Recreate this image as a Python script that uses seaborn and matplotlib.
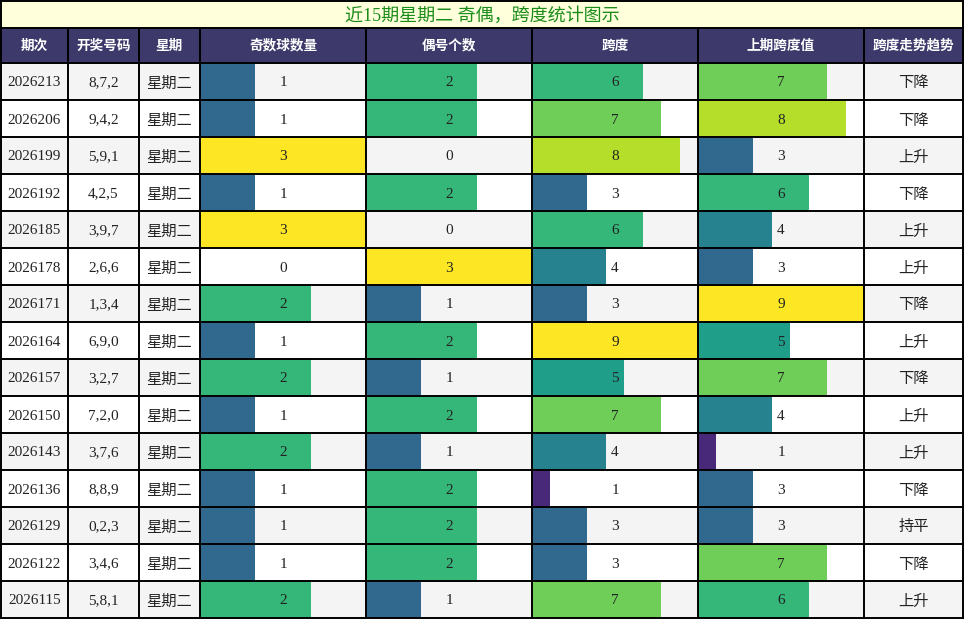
import matplotlib
matplotlib.use("Agg")
import matplotlib.pyplot as plt
import seaborn as sns

# data
periods = ["2026213", "2026206", "2026199", "2026192", "2026185", "2026178", "2026171", "2026164",
           "2026157", "2026150", "2026143", "2026136", "2026129", "2026122", "2026115"]
draws = ["8,7,2", "9,4,2", "5,9,1", "4,2,5", "3,9,7", "2,6,6", "1,3,4", "6,9,0",
         "3,2,7", "7,2,0", "3,7,6", "8,8,9", "0,2,3", "3,4,6", "5,8,1"]
weekday = "星期二"
odd_count = [1, 1, 3, 1, 3, 0, 2, 1, 2, 1, 2, 1, 1, 1, 2]
even_count = [2, 2, 0, 2, 0, 3, 1, 2, 1, 2, 1, 2, 2, 2, 1]
span = [6, 7, 8, 3, 6, 4, 3, 9, 5, 7, 4, 1, 3, 3, 7]
prev_span = [7, 8, 3, 6, 4, 3, 9, 5, 7, 4, 1, 3, 3, 7, 6]
trend = ["下降", "下降", "上升", "下降", "上升", "上升", "下降", "上升",
         "下降", "上升", "上升", "下降", "持平", "下降", "上升"]
headers = ["期次", "开奖号码", "星期", "奇数球数量", "偶号个数", "跨度", "上期跨度值", "跨度走势趋势"]
title = "近15期星期二 奇偶，跨度统计图示"

sns.set_theme(style="white")
FONT = ["Liberation Serif", "Noto Sans CJK SC", "DejaVu Sans"]
CJK = ["Noto Sans CJK SC", "DejaVu Sans"]
plt.rcParams["font.family"] = FONT

W, H = 964, 619
col_edges = [1, 68, 139, 200, 366, 532, 698, 864, 963]
title_h, head_bot, row_h = 28, 63, 37
n = len(periods)
table_bot = head_bot + row_h * n

fig = plt.figure(figsize=(W / 100, H / 100), dpi=100)

# background layer
bg = fig.add_axes([0, 0, 1, 1])
bg.set_xlim(0, W)
bg.set_ylim(H, 0)
bg.axis("off")
bg.add_patch(plt.Rectangle((0, 0), W, title_h, color="#ffffdc"))
bg.add_patch(plt.Rectangle((0, title_h), W, head_bot - title_h, color="#3d3a6b"))
for i in range(n):
    fc = "#f4f4f4" if i % 2 == 0 else "#ffffff"
    bg.add_patch(plt.Rectangle((0, head_bot + i * row_h), W, row_h, color=fc))

# bar columns
cmap = sns.color_palette("viridis", as_cmap=True)
bar_cols = [(3, odd_count, 3), (4, even_count, 3), (5, span, 9), (6, prev_span, 9)]
rows = [str(i) for i in range(n)]
for ci, vals, vmax in bar_cols:
    x0, x1 = col_edges[ci], col_edges[ci + 1]
    ax = fig.add_axes([x0 / W, (H - table_bot) / H, (x1 - x0) / W, (table_bot - head_bot) / H])
    ax.patch.set_alpha(0)
    colors = [cmap(v / vmax) for v in vals]
    sns.barplot(x=vals, y=rows, hue=rows, palette=colors, order=rows, orient="h",
                width=1.0, saturation=1, legend=False, ax=ax, linewidth=0)
    ax.set_xlim(0, vmax)
    ax.set_ylim(n - 0.5, -0.5)
    ax.axis("off")

# overlay: lines and text
ov = fig.add_axes([0, 0, 1, 1])
ov.patch.set_alpha(0)
ov.set_xlim(0, W)
ov.set_ylim(H, 0)
ov.axis("off")

lw = 1.4
for y in [0.5, title_h] + [head_bot + i * row_h for i in range(n + 1)]:
    ov.plot([0, W], [y, y], color="black", lw=lw)
for x in col_edges:
    ov.plot([x, x], [title_h, table_bot], color="black", lw=lw)
ov.plot([1, 1], [0, title_h], color="black", lw=lw)
ov.plot([963, 963], [0, title_h], color="black", lw=lw)

ov.text(W / 2, title_h / 2 + 1.5, title, ha="center", va="center", fontsize=13,
        color="#1a8c1a", family=FONT)
for j, h in enumerate(headers):
    cx = (col_edges[j] + col_edges[j + 1]) / 2
    ov.text(cx, (title_h + head_bot) / 2, h, ha="center", va="center", fontsize=9.8,
            color="white", fontweight="bold", family=CJK)

for i in range(n):
    cy = head_bot + i * row_h + row_h / 2 + 1.5
    cells = [periods[i], draws[i], weekday, odd_count[i], even_count[i],
             span[i], prev_span[i], trend[i]]
    for j, c in enumerate(cells):
        cx = (col_edges[j] + col_edges[j + 1]) / 2
        fam = CJK if j in (2, 7) else FONT
        ov.text(cx, cy, str(c), ha="center", va="center", fontsize=11,
                color="#222222", family=fam)

fig.savefig("out.png", dpi=100)
